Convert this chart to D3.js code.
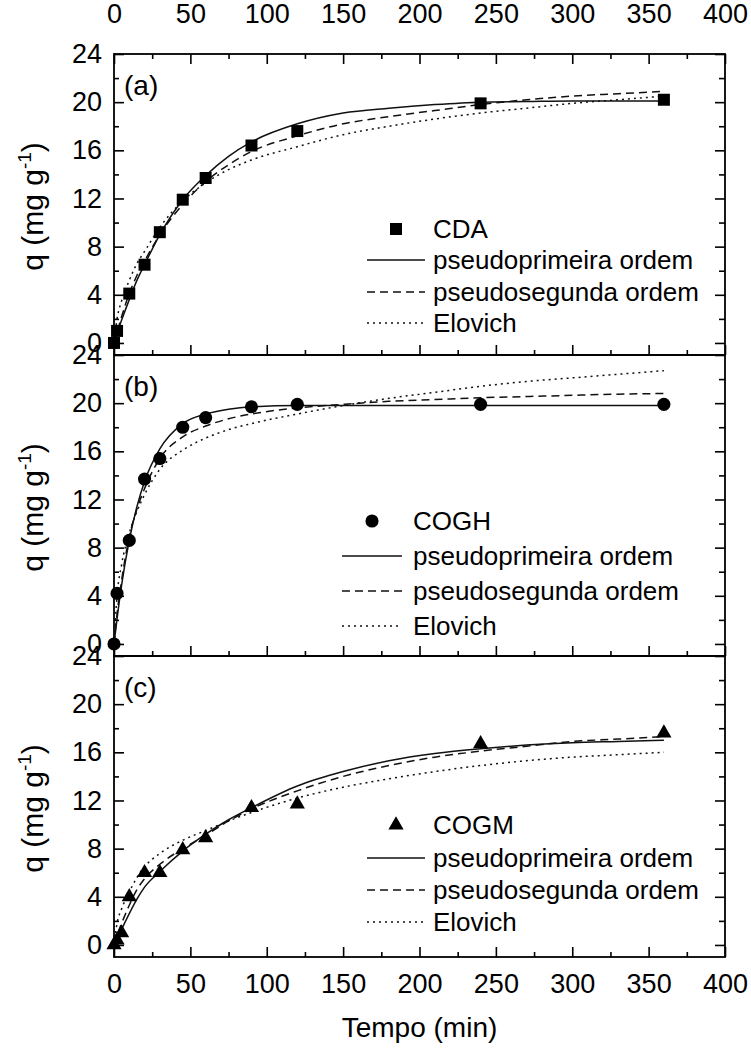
<!DOCTYPE html>
<html>
<head>
<meta charset="utf-8">
<script src="https://cdn.jsdelivr.net/npm/d3@7"></script>
<style>
  body { margin: 0; background: #fff; }
  svg { display: block; font-family: 'Liberation Sans', Arial, sans-serif; }
</style>
</head>
<body>
<main></main>
<script>
// measured points
const timesA = [0, 2, 10, 20, 30, 45, 60, 90, 120, 240, 360]
const cdaQ = [0, 1.0, 4.1, 6.5, 9.2, 11.9, 13.7, 16.4, 17.6, 19.9, 20.2]
const timesB = [0, 2, 10, 20, 30, 45, 60, 90, 120, 240, 360]
const coghQ = [0, 4.2, 8.6, 13.7, 15.4, 18.0, 18.8, 19.7, 19.9, 19.9, 19.9]
const timesC = [0, 2, 5, 10, 20, 30, 45, 60, 90, 120, 240, 360]
const cogmQ = [0, 0.4, 1.0, 4.0, 6.0, 6.0, 7.9, 8.9, 11.4, 11.7, 16.7, 17.6]

// fitted curves
const fitT = [0, 2, 5, 10, 15, 20, 30, 45, 60, 75, 90, 120, 150, 180, 210, 240, 270, 300, 330, 360]
const cdaPfo = [0, 0.8, 1.9, 3.6, 5.2, 6.5, 9.0, 11.9, 13.9, 15.5, 16.7, 18.2, 19.1, 19.5, 19.8, 20.0, 20.05, 20.1, 20.1, 20.1]
const cdaPso = [0, 0.9, 2.2, 4.1, 5.6, 6.8, 9.0, 11.5, 13.4, 14.8, 15.9, 17.2, 18.2, 18.8, 19.3, 19.8, 20.2, 20.5, 20.7, 20.9]
const cdaElo = [0, 2.0, 3.5, 5.2, 6.6, 7.6, 9.6, 11.8, 13.3, 14.4, 15.2, 16.3, 17.3, 18.0, 18.6, 19.1, 19.5, 19.9, 20.2, 20.5]
const coghPfo = [0, 2.1, 4.9, 8.6, 11.4, 13.5, 16.2, 18.3, 19.1, 19.5, 19.7, 19.8, 19.8, 19.8, 19.8, 19.8, 19.8, 19.8, 19.8, 19.8]
const coghPso = [0, 2.5, 5.3, 8.9, 11.2, 12.9, 15.4, 17.2, 18.1, 18.7, 19.1, 19.6, 19.9, 20.15, 20.3, 20.45, 20.55, 20.65, 20.75, 20.8]
const coghElo = [0, 4.0, 6.6, 9.2, 11.0, 12.4, 14.5, 16.1, 17.1, 17.8, 18.3, 19.1, 19.8, 20.4, 20.9, 21.4, 21.8, 22.1, 22.4, 22.7]
const cogmPfo = [0, 0.5, 1.3, 2.6, 3.8, 4.8, 6.1, 7.8, 9.2, 10.4, 11.4, 13.2, 14.4, 15.3, 15.9, 16.3, 16.6, 16.8, 16.9, 17.0]
const cogmPso = [0, 0.8, 1.8, 3.3, 4.6, 5.5, 6.7, 8.0, 9.1, 10.3, 11.3, 12.8, 14.0, 14.9, 15.6, 16.1, 16.5, 16.9, 17.1, 17.3]
const cogmElo = [0, 1.8, 3.0, 4.4, 5.6, 6.5, 7.6, 8.7, 9.5, 10.3, 11.0, 12.2, 13.1, 13.8, 14.4, 14.9, 15.3, 15.6, 15.8, 16.0]

const xTicks = [0, 50, 100, 150, 200, 250, 300, 350, 400]
const xMinor = [25, 75, 125, 175, 225, 275, 325, 375]
const yTicks = [0, 4, 8, 12, 16, 20, 24]
const yMinor = [2, 6, 10, 14, 18, 22]
const seriesNames = ['pseudoprimeira ordem', 'pseudosegunda ordem', 'Elovich']

const width = 751
const height = 1049
const plotLeft = 114
const plotRight = 725
const plotTop = 54
const panelH = 301
const font = "'Liberation Sans', Arial, sans-serif"

const dashes = [null, '8,5', '2,4']

const panels = [
  { tag: '(a)', name: 'CDA', t: timesA, q: cdaQ, fits: [cdaPfo, cdaPso, cdaElo], symbol: d3.symbolSquare, size: 144,
    leg: { x: 367, len: 58, tx: 433, rows: [175, 206, 238, 269] } },
  { tag: '(b)', name: 'COGH', t: timesB, q: coghQ, fits: [coghPfo, coghPso, coghElo], symbol: d3.symbolCircle, size: 135,
    leg: { x: 342, len: 60, tx: 413, rows: [166, 201, 236, 271] } },
  { tag: '(c)', name: 'COGM', t: timesC, q: cogmQ, fits: [cogmPfo, cogmPso, cogmElo], symbol: d3.symbolTriangle, size: 100,
    leg: { x: 367, len: 58, tx: 433, rows: [169, 202, 234, 266] } }
]

const svg = d3.select('main')
  .append('svg')
  .attr('width', width)
  .attr('height', height)

const xScale = d3.scaleLinear().domain([0, 400]).range([plotLeft, plotRight])

const styleAxis = (g) => {
  g.select('.domain').remove()
  g.selectAll('line').attr('stroke', '#000').attr('stroke-width', 1.6)
  g.selectAll('text').attr('font-size', 27).attr('font-family', font).attr('fill', '#000')
}

const drawPanel = (p, i) => {
  const y0 = plotTop + i * panelH
  const yScale = d3.scaleLinear().domain([-1, 24]).range([y0 + panelH, y0])
  const g = svg.append('g')

  // left axis
  g.append('g').attr('transform', `translate(${plotLeft},0)`)
    .call(d3.axisLeft(yScale).tickValues(yTicks).tickSize(-10).tickPadding(12))
    .call(styleAxis)
  g.append('g').attr('transform', `translate(${plotLeft},0)`)
    .call(d3.axisLeft(yScale).tickValues(yMinor).tickSize(-5).tickFormat(''))
    .call(styleAxis)
  // right axis
  g.append('g').attr('transform', `translate(${plotRight},0)`)
    .call(d3.axisRight(yScale).tickValues(yTicks).tickSize(-10).tickFormat(''))
    .call(styleAxis)
  g.append('g').attr('transform', `translate(${plotRight},0)`)
    .call(d3.axisRight(yScale).tickValues(yMinor).tickSize(-6).tickFormat(''))
    .call(styleAxis)

  // bottom ticks
  const last = i === panels.length - 1
  g.append('g').attr('transform', `translate(0,${y0 + panelH})`)
    .call(d3.axisBottom(xScale).tickValues(xTicks).tickSize(-10).tickPadding(17)
      .tickFormat(last ? d3.format('d') : ''))
    .call(styleAxis)
  g.append('g').attr('transform', `translate(0,${y0 + panelH})`)
    .call(d3.axisBottom(xScale).tickValues(xMinor).tickSize(-5).tickFormat(''))
    .call(styleAxis)

  if (i === 0) {
    g.append('g').attr('transform', `translate(0,${y0})`)
      .call(d3.axisTop(xScale).tickValues(xTicks).tickSize(-10).tickPadding(31))
      .call(styleAxis)
    g.append('g').attr('transform', `translate(0,${y0})`)
      .call(d3.axisTop(xScale).tickValues(xMinor).tickSize(-5).tickFormat(''))
      .call(styleAxis)
  }

  g.append('rect')
    .attr('x', plotLeft).attr('y', y0)
    .attr('width', plotRight - plotLeft).attr('height', panelH)
    .attr('fill', 'none').attr('stroke', '#000').attr('stroke-width', 1.8)

  // fitted curves
  const line = d3.line()
    .x((d, j) => xScale(fitT[j]))
    .y((d) => yScale(d))
    .curve(d3.curveMonotoneX)

  p.fits.forEach((f, k) => {
    g.append('path')
      .attr('d', line(f))
      .attr('fill', 'none')
      .attr('stroke', '#111')
      .attr('stroke-width', 1.5)
      .attr('stroke-dasharray', dashes[k])
  })

  // measured points
  const sym = d3.symbol().type(p.symbol).size(p.size)
  g.selectAll('path.pt')
    .data(p.q)
    .enter()
    .append('path')
    .attr('class', 'pt')
    .attr('d', sym)
    .attr('transform', (d, j) => `translate(${xScale(p.t[j])},${yScale(d)})`)
    .attr('fill', '#000')

  // panel tag
  g.append('text')
    .attr('x', plotLeft + 10).attr('y', y0 + 41)
    .attr('font-size', 28).attr('font-family', font)
    .text(p.tag)

  // y label
  const yl = g.append('text')
    .attr('transform', `translate(43,${y0 + panelH / 2 + 2}) rotate(-90)`)
    .attr('text-anchor', 'middle')
    .attr('font-size', 30).attr('font-family', font)
  yl.append('tspan').text('q (mg g')
  yl.append('tspan').attr('font-size', 19).attr('dy', -12).text('-1')
  yl.append('tspan').attr('dy', 12).text(')')

  // legend
  const lg = g.append('g').attr('transform', `translate(0,${y0})`)
  lg.append('path')
    .attr('d', sym)
    .attr('transform', `translate(${p.leg.x + p.leg.len / 2},${p.leg.rows[0]})`)
    .attr('fill', '#000')
  lg.append('text')
    .attr('x', p.leg.tx).attr('y', p.leg.rows[0] + 9)
    .attr('font-size', 26).attr('font-family', font)
    .text(p.name)
  seriesNames.forEach((n, k) => {
    const ry = p.leg.rows[k + 1]
    lg.append('line')
      .attr('x1', p.leg.x).attr('x2', p.leg.x + p.leg.len)
      .attr('y1', ry).attr('y2', ry)
      .attr('stroke', '#111').attr('stroke-width', 1.5)
      .attr('stroke-dasharray', dashes[k])
    lg.append('text')
      .attr('x', p.leg.tx).attr('y', ry + 9)
      .attr('font-size', 26).attr('font-family', font)
      .text(n)
  })
}

panels.forEach(drawPanel)

svg.append('text')
  .attr('x', (plotLeft + plotRight) / 2).attr('y', plotTop + 3 * panelH + 80)
  .attr('text-anchor', 'middle')
  .attr('font-size', 28).attr('font-family', font)
  .text('Tempo (min)')
</script>
</body>
</html>
